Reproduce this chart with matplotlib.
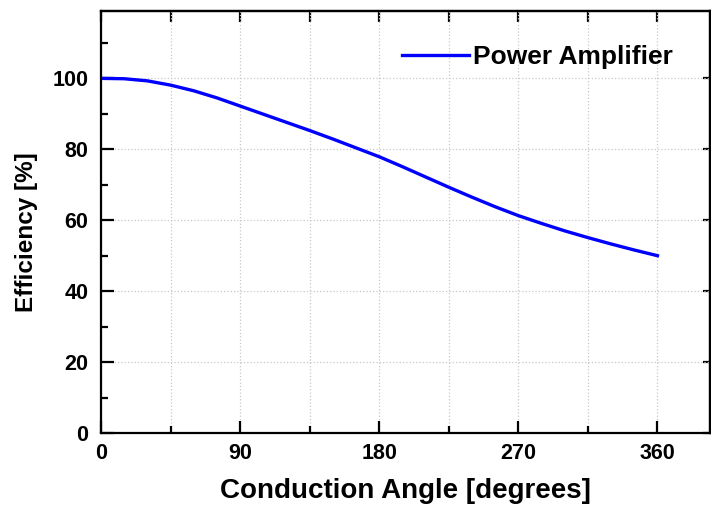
import matplotlib.pyplot as plt
import numpy as np

# conduction angle [deg] and efficiency [%]
angle = [0, 15, 30, 45, 60, 75, 90, 105, 120, 135, 150, 165, 180,
         195, 210, 225, 240, 255, 270, 285, 300, 315, 330, 345, 360]
eff = [100, 99.9, 99.3, 98.1, 96.5, 94.5, 92.2, 89.9, 87.6, 85.3, 82.9, 80.4, 77.9,
       75.1, 72.2, 69.3, 66.5, 63.8, 61.3, 59.1, 57.0, 55.1, 53.3, 51.6, 50.0]
series_name = "Power Amplifier"
xticks = [0, 90, 180, 270, 360]
yticks = [0, 20, 40, 60, 80, 100]

plt.rcParams['font.family'] = ['Liberation Sans', 'DejaVu Sans']
plt.rcParams['font.weight'] = 'bold'

fig = plt.figure(figsize=(7.11, 5.11), dpi=100)
ax = fig.add_axes([101/711, 78/511, 609/711, 422/511])

ax.plot(angle, eff, color='#0000ff', lw=2.4, label=series_name)

ax.set_xlim(0, 394)
ax.set_ylim(0, 119)
ax.set_xticks(xticks)
ax.set_xticks(np.arange(45, 394, 90), minor=True)
ax.set_yticks(yticks)
ax.set_yticks(np.arange(10, 119, 20), minor=True)

ax.grid(which='both', axis='x', color='#c8c8c8', ls=':', lw=0.9)
ax.grid(which='major', axis='y', color='#c8c8c8', ls=':', lw=0.9)

for s in ax.spines.values():
    s.set_linewidth(1.6)

ax.tick_params(which='major', direction='in', length=9, width=1.6, labelsize=15.5)
ax.tick_params(which='minor', direction='in', length=5, width=1.6)
ax.tick_params(axis='x', which='major', pad=7)
ax.tick_params(axis='y', which='major', pad=9)

top = ax.secondary_xaxis('top')
top.set_xticks(np.arange(0, 394, 45))
top.tick_params(direction='in', length=8, width=1.6, labeltop=False)
top.spines['top'].set_linewidth(1.6)
right = ax.secondary_yaxis('right')
right.set_yticks(yticks)
right.tick_params(direction='in', length=5, width=1.6, labelright=False)
right.spines['right'].set_linewidth(1.6)

ax.set_xlabel("Conduction Angle [degrees]", fontsize=20, fontweight='bold', labelpad=10)
ax.set_ylabel("Efficiency [%]", fontsize=17.5, fontweight='bold')
ax.yaxis.set_label_coords(-0.104, 0.476)

ax.legend(loc='upper right', frameon=False, fontsize=19, handlelength=2.55,
          handletextpad=0.15, bbox_to_anchor=(0.978, 0.975))

fig.savefig("out.png", dpi=100)
